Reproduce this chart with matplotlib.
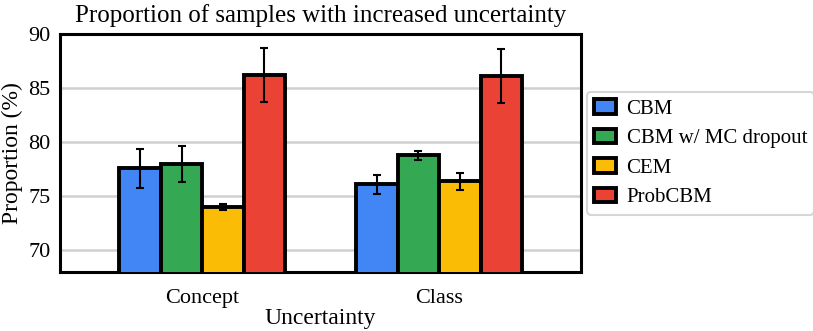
import numpy as np
import matplotlib.pyplot as plt

plt.rcParams['font.family'] = ['Liberation Serif', 'DejaVu Serif']

groups = ['Concept', 'Class']
methods = ['CBM', 'CBM w/ MC dropout', 'CEM', 'ProbCBM']
means = {
    'CBM': [77.6, 76.1],
    'CBM w/ MC dropout': [78.0, 78.8],
    'CEM': [74.0, 76.4],
    'ProbCBM': [86.2, 86.1],
}
errs = {
    'CBM': [1.8, 0.9],
    'CBM w/ MC dropout': [1.7, 0.4],
    'CEM': [0.3, 0.8],
    'ProbCBM': [2.5, 2.5],
}
colors = ['#4285F4', '#34A853', '#FBBC05', '#EA4335']

fig, ax = plt.subplots(figsize=(8.13, 3.31), dpi=100)

x = np.arange(len(groups))
width = 0.175
for i, m in enumerate(methods):
    pos = x + (i - 1.5) * width
    ax.bar(pos, means[m], width, color=colors[i], edgecolor='black',
           linewidth=2.8, label=m, zorder=3)
    ax.errorbar(pos, means[m], yerr=errs[m], fmt='none', ecolor='black',
                elinewidth=1.5, capsize=3, capthick=1.5, zorder=4)

ax.set_ylim(68, 90)
ax.set_xlim(-0.6, 1.6)
ax.set_yticks([70, 75, 80, 85, 90])
ax.set_xticks(x)
ax.set_xticklabels(groups)
ax.tick_params(axis='both', length=0, labelsize=16)
ax.tick_params(axis='x', pad=12)
ax.tick_params(axis='y', pad=7)
ax.yaxis.grid(True, color='#d0d0d0', linewidth=1.8, zorder=0)
ax.set_axisbelow(True)
for s in ax.spines.values():
    s.set_linewidth(2.2)
    s.set_color('black')

ax.set_ylabel('Proportion (%)', fontsize=17)
ax.yaxis.set_label_coords(-0.072, 0.5)
ax.set_xlabel('Uncertainty', fontsize=17, labelpad=0)
ax.set_title('Proportion of samples with increased uncertainty', fontsize=18, pad=9)

leg = ax.legend(loc='center left', bbox_to_anchor=(1.011, 0.5), fontsize=15,
                frameon=True, fancybox=True, edgecolor='#cccccc',
                handlelength=1.05, handleheight=0.7, handletextpad=0.5,
                borderpad=0.35, borderaxespad=0.0, labelspacing=0.48)
leg.get_frame().set_linewidth(1.5)

fig.subplots_adjust(left=0.074, right=0.715, top=0.897, bottom=0.178)
fig.savefig('out.png', dpi=100)
